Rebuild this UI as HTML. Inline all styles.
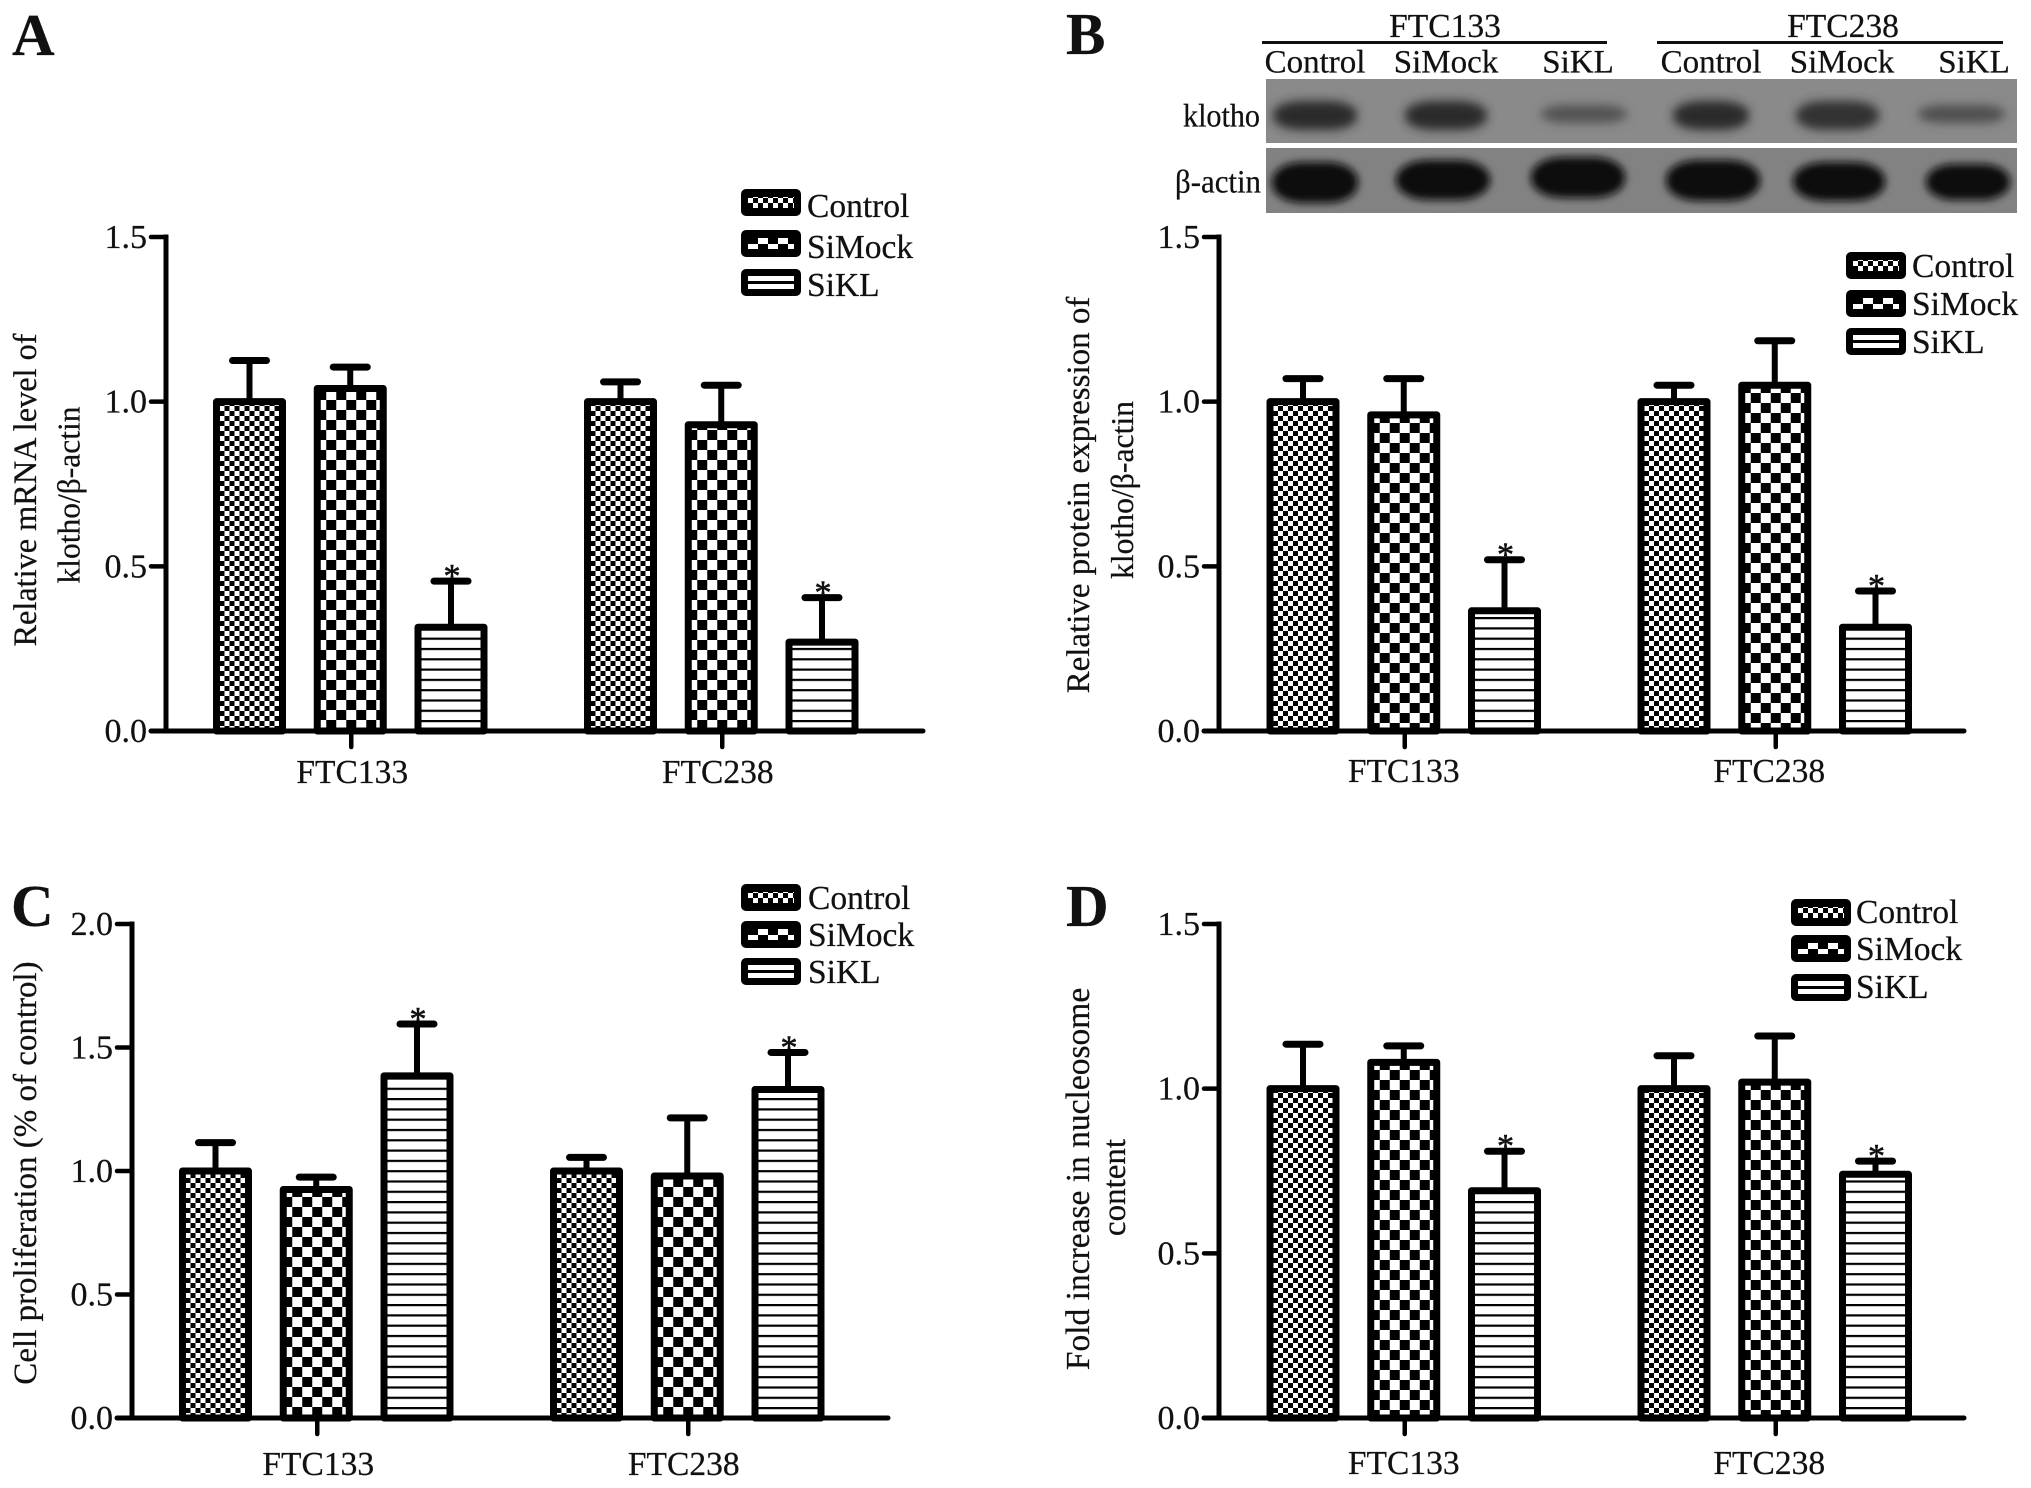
<!DOCTYPE html>
<html lang="en">
<head>
<meta charset="utf-8">
<title>Klotho knockdown bar charts</title>
<style>
html,body{margin:0;padding:0;background:#fff;}
svg{display:block;}
text{font-family:"Liberation Serif",serif;fill:#111;stroke:#111;stroke-width:0.25px;}
</style>
</head>
<body>
<svg id="figure" xmlns="http://www.w3.org/2000/svg" width="2031" height="1488" viewBox="0 0 2031 1488">
<defs id="defs">
<pattern id="pat-control" patternUnits="userSpaceOnUse" width="10" height="10">
<rect width="10" height="10" fill="#fff"/><rect width="5" height="5" fill="#000"/><rect x="5" y="5" width="5" height="5" fill="#000"/>
</pattern>
<pattern id="pat-simock" patternUnits="userSpaceOnUse" width="20" height="20">
<rect width="20" height="20" fill="#fff"/><rect width="10" height="10" fill="#000"/><rect x="10" y="10" width="10" height="10" fill="#000"/>
</pattern>
<pattern id="pat-sikl" patternUnits="userSpaceOnUse" width="12" height="10.3">
<rect width="12" height="10.3" fill="#fff"/><rect width="12" height="2.2" fill="#000"/>
</pattern>
<filter id="blur-band" x="-30%" y="-60%" width="160%" height="220%"><feGaussianBlur stdDeviation="5"/></filter>
<filter id="blur-band-2" x="-30%" y="-50%" width="160%" height="200%"><feGaussianBlur stdDeviation="4"/></filter>
</defs>
<rect width="2031" height="1488" fill="#fff"/>

<text x="12" y="55" font-size="59" font-weight="bold">A</text>
<text x="1066" y="54" font-size="59" font-weight="bold">B</text>
<text x="11" y="926" font-size="59" font-weight="bold">C</text>
<text x="1066" y="926" font-size="59" font-weight="bold">D</text>

<g>
<text x="1445" y="37" font-size="33.5" text-anchor="middle">FTC133</text>
<text x="1843" y="37" font-size="33.5" text-anchor="middle">FTC238</text>
<rect x="1262" y="41" width="345" height="3" fill="#111"/>
<rect x="1657" y="41" width="346" height="3" fill="#111"/>
<text x="1315" y="72.500" font-size="33" text-anchor="middle">Control</text>
<text x="1446" y="72.500" font-size="33" text-anchor="middle">SiMock</text>
<text x="1578" y="72.500" font-size="33" text-anchor="middle">SiKL</text>
<text x="1711" y="72.500" font-size="33" text-anchor="middle">Control</text>
<text x="1842" y="72.500" font-size="33" text-anchor="middle">SiMock</text>
<text x="1974" y="72.500" font-size="33" text-anchor="middle">SiKL</text>
<text x="1183" y="126.500" font-size="33" textLength="77" lengthAdjust="spacingAndGlyphs">klotho</text>
<text x="1175" y="192.500" font-size="33" textLength="86" lengthAdjust="spacingAndGlyphs">β-actin</text>

<svg x="1266" y="79" width="751" height="64" viewBox="1266 79 751 64">
<rect x="1266" y="79" width="751" height="64" fill="#8a8a8a"/>
<g filter="url(#blur-band)">
<rect x="1273" y="101" width="84" height="29" rx="28" ry="13" fill="#2a2a2a"/>
<rect x="1405" y="101" width="82" height="29" rx="28" ry="13" fill="#2c2c2c"/>
<rect x="1541" y="105" width="86" height="18" rx="26" ry="8" fill="#525252"/>
<rect x="1673" y="101" width="76" height="29" rx="28" ry="13" fill="#2c2c2c"/>
<rect x="1796" y="101" width="83" height="29" rx="28" ry="13" fill="#323232"/>
<rect x="1918" y="105" width="87" height="18" rx="26" ry="8" fill="#505050"/>
</g>
</svg>
<svg x="1266" y="148" width="751" height="65" viewBox="1266 148 751 65">
<rect x="1266" y="148" width="751" height="65" fill="#828282"/>
<g filter="url(#blur-band-2)">
<rect x="1272" y="162" width="86" height="41" rx="30" ry="19" fill="#080808"/>
<rect x="1396" y="160" width="94" height="40" rx="32" ry="19" fill="#080808"/>
<rect x="1531" y="157" width="94" height="41" rx="32" ry="19" fill="#080808"/>
<rect x="1666" y="160" width="94" height="41" rx="32" ry="19" fill="#080808"/>
<rect x="1793" y="162" width="92" height="39" rx="32" ry="18" fill="#080808"/>
<rect x="1926" y="164" width="84" height="36" rx="28" ry="17" fill="#080808"/>
</g>
</svg>
</g>

<g>
<text transform="translate(36,490) rotate(-90)" font-size="32.300" text-anchor="middle">Relative mRNA level of</text>
<text transform="translate(79.500,495) rotate(-90)" font-size="31.500" text-anchor="middle">klotho/β-actin</text>
<text transform="translate(1089,495) rotate(-90)" font-size="33" text-anchor="middle">Relative protein expression of</text>
<text transform="translate(1133,490) rotate(-90)" font-size="31.700" text-anchor="middle">klotho/β-actin</text>
<text transform="translate(36,1173) rotate(-90)" font-size="33" text-anchor="middle">Cell proliferation (% of control)</text>
<text transform="translate(1089,1179) rotate(-90)" font-size="33.500" text-anchor="middle">Fold increase in nucleosome</text>
<text transform="translate(1125,1187.500) rotate(-90)" font-size="33" text-anchor="middle">content</text>
</g>

<g id="charts"></g>
</svg>

<script>
// ---- shared chart data ----
const categories = ['FTC133', 'FTC238'];
const seriesNames = ['Control', 'SiMock', 'SiKL'];
const ticksA = ['0.0', '0.5', '1.0', '1.5'];
const ticksB = ['0.0', '0.5', '1.0', '1.5'];
const ticksC = ['0.0', '0.5', '1.0', '1.5', '2.0'];
const ticksD = ['0.0', '0.5', '1.0', '1.5'];

// Panel A: mRNA level
const aControl = [1.0, 1.0];
const aSiMock = [1.04, 0.93];
const aSiKL = [0.315, 0.27];
const aControlErr = [0.125, 0.06];
const aSiMockErr = [0.065, 0.12];
const aSiKLErr = [0.14, 0.135];

// Panel B: protein expression
const bControl = [1.0, 1.0];
const bSiMock = [0.96, 1.05];
const bSiKL = [0.365, 0.315];
const bControlErr = [0.07, 0.05];
const bSiMockErr = [0.11, 0.135];
const bSiKLErr = [0.155, 0.11];

// Panel C: cell proliferation
const cControl = [1.0, 1.0];
const cSiMock = [0.925, 0.98];
const cSiKL = [1.385, 1.33];
const cControlErr = [0.115, 0.055];
const cSiMockErr = [0.05, 0.235];
const cSiKLErr = [0.21, 0.15];

// Panel D: nucleosome content
const dControl = [1.0, 1.0];
const dSiMock = [1.08, 1.02];
const dSiKL = [0.69, 0.74];
const dControlErr = [0.135, 0.10];
const dSiMockErr = [0.05, 0.14];
const dSiKLErr = [0.12, 0.04];

const NS = 'http://www.w3.org/2000/svg';
const chartsRoot = document.getElementById('charts');
const defsRoot = document.getElementById('defs');

const panels = [
  { id: 'a', ticks: ticksA, values: [aControl, aSiMock, aSiKL], errs: [aControlErr, aSiMockErr, aSiKLErr],
    axisX: 166, axisEnd: 923, yTop: 237, y0: 731, firstBar: 83.5, labelShift: [0, -5.5], labelDrop: 52, mockY: 111,
    legendX: 741, legendTextX: 807, legendY: [189, 230, 269], legendBase: [217, 258, 296] },
  { id: 'b', ticks: ticksB, values: [bControl, bSiMock, bSiKL], errs: [bControlErr, bSiMockErr, bSiKLErr],
    axisX: 1219, axisEnd: 1964, yTop: 237, y0: 731, firstBar: 84, labelShift: [-2, -7.5], labelDrop: 51, mockY: 98,
    legendX: 1846, legendTextX: 1912, legendY: [252, 290, 328], legendBase: [277, 315, 353] },
  { id: 'c', ticks: ticksC, values: [cControl, cSiMock, cSiKL], errs: [cControlErr, cSiMockErr, cSiKLErr],
    axisX: 132, axisEnd: 888, yTop: 924, y0: 1418, firstBar: 83.5, labelShift: [0, -5.5], labelDrop: 57, mockY: 111,
    legendX: 741, legendTextX: 808, legendY: [884, 921, 958], legendBase: [909, 946, 983] },
  { id: 'd', ticks: ticksD, values: [dControl, dSiMock, dSiKL], errs: [dControlErr, dSiMockErr, dSiKLErr],
    axisX: 1219, axisEnd: 1964, yTop: 924, y0: 1418, firstBar: 84, labelShift: [-2, -7.5], labelDrop: 56, mockY: 98,
    legendX: 1791, legendTextX: 1856, legendY: [899, 935, 974], legendBase: [923, 960, 998] }
];

const patternIds = ['pat-control', 'pat-simock', 'pat-sikl'];
const BAR_STEP = 100.75;
const GROUP_STEP = 371;
const BAR_W = 66;
const STROKE = 7;

function make(tag, attrs, parent) {
  const el = document.createElementNS(NS, tag);
  for (const k in attrs) el.setAttribute(k, attrs[k]);
  parent.appendChild(el);
  return el;
}

function barPattern(p, seriesIdx, groupIdx, cx) {
  const id = 'bar-pat-' + p.id + '-' + groupIdx + '-' + seriesIdx;
  let tx = cx;
  let ty = p.y0;
  if (seriesIdx === 1) { tx = cx - 4; ty = p.y0 - p.mockY; }
  if (seriesIdx === 2) { tx = cx; ty = p.y0 - 11; }
  make('pattern', { id: id, href: '#' + patternIds[seriesIdx], patternTransform: 'translate(' + tx + ' ' + ty + ')' }, defsRoot);
  return 'url(#' + id + ')';
}

function swatchPattern(p, seriesIdx, x, y) {
  const id = 'swatch-pat-' + p.id + '-' + seriesIdx;
  make('pattern', { id: id, href: '#' + patternIds[seriesIdx], patternTransform: 'translate(' + x + ' ' + y + ')' }, defsRoot);
  return 'url(#' + id + ')';
}

function drawPanel(p) {
  const axisMax = parseFloat(p.ticks[p.ticks.length - 1]);
  const yScale = function (v) { return p.y0 - v * (p.y0 - p.yTop) / axisMax; };
  const xBar = function (groupIdx, seriesIdx) {
    return p.axisX + p.firstBar + groupIdx * GROUP_STEP + seriesIdx * BAR_STEP;
  };

  const g = make('g', {}, chartsRoot);
  
  

  // bars, error bars and asterisks
  categories.forEach(function (cat, gi) {
    seriesNames.forEach(function (name, si) {
      const value = p.values[si][gi];
      const err = p.errs[si][gi];
      const cx = xBar(gi, si);
      const top = yScale(value);
      const errTop = yScale(value + err);

      const stem = make('line', { x1: cx, x2: cx, y1: top, y2: errTop, stroke: '#000', 'stroke-width': 6 }, g);
      
      

      const cap = make('line', { x1: cx - 17, x2: cx + 17, y1: errTop, y2: errTop, stroke: '#000', 'stroke-width': 7, 'stroke-linecap': 'round' }, g);
      
      

      const bar = make('rect', {
        x: cx - BAR_W / 2, y: top, width: BAR_W, height: p.y0 - top,
        fill: barPattern(p, si, gi, cx), stroke: '#000', 'stroke-width': STROKE, 'stroke-linejoin': 'round'
      }, g);
      
      

      if (si === 2) {
        const star = make('text', { x: cx + 1, y: errTop + 6, 'font-size': 34, 'text-anchor': 'middle', style: 'stroke-width:0.6px' }, g);
        
        
        star.textContent = '*';
      }
    });

    // x tick and category label
    const tickX = xBar(gi, 1) + 1;
    const xTick = make('line', { x1: tickX, x2: tickX, y1: p.y0, y2: p.y0 + 16, stroke: '#000', 'stroke-width': 4.5, 'stroke-linecap': 'round' }, g);
    
    

    const xLabel = make('text', { x: tickX + p.labelShift[gi] + 1, y: p.y0 + p.labelDrop, 'font-size': 33.5, 'text-anchor': 'middle' }, g);
    
    
    xLabel.textContent = cat;
  });

  // axes
  const yAxis = make('line', { x1: p.axisX, x2: p.axisX, y1: p.yTop - 2.5, y2: p.y0 + 2.5, stroke: '#000', 'stroke-width': 5 }, g);
  
  

  const xAxis = make('line', { x1: p.axisX - 15, x2: p.axisEnd, y1: p.y0, y2: p.y0, stroke: '#000', 'stroke-width': 5, 'stroke-linecap': 'round' }, g);
  
  

  p.ticks.forEach(function (label) {
    const y = yScale(parseFloat(label));
    const tick = make('line', { x1: p.axisX - 15, x2: p.axisX, y1: y, y2: y, stroke: '#000', 'stroke-width': 4.5, 'stroke-linecap': 'round' }, g);
    
    

    const text = make('text', { x: p.axisX - 19, y: y + 11, 'font-size': 34, 'text-anchor': 'end' }, g);
    
    
    text.textContent = label;
  });

  // legend
  seriesNames.forEach(function (name, si) {
    const entry = make('g', {}, g);
    
    

    const sy = p.legendY[si];
    make('rect', { x: p.legendX, y: sy, width: 60, height: 27, rx: 5, fill: '#000' }, entry);
    if (si === 2) {
      make('rect', { x: p.legendX + 7, y: sy + 7, width: 46, height: 13, fill: '#fff' }, entry);
      make('rect', { x: p.legendX + 7, y: sy + 12, width: 46, height: 3, fill: '#000' }, entry);
    } else {
      make('rect', { x: p.legendX + 7, y: sy + 8, width: 46, height: 11, fill: swatchPattern(p, si, p.legendX + 7, sy + 4) }, entry);
    }

    const label = make('text', { x: p.legendTextX, y: p.legendBase[si], 'font-size': 33.5 }, entry);
    
    
    label.textContent = name;
  });
}

panels.forEach(drawPanel);
</script>
</body>
</html>
